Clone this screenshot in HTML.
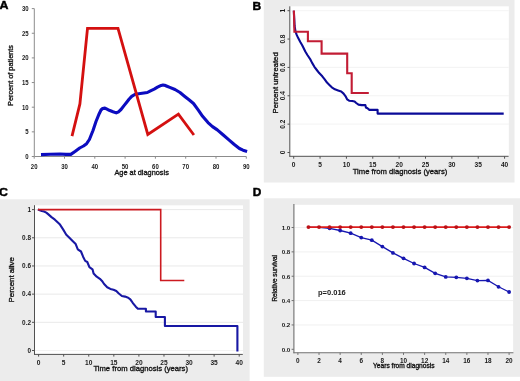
<!DOCTYPE html>
<html><head><meta charset="utf-8"><style>
html,body{margin:0;padding:0;background:#fff;overflow:hidden;}
svg{display:block;filter:blur(0.35px);}
text{font-family:"Liberation Sans",sans-serif;}
.t{fill:#111;stroke:#111;stroke-width:0.32px;}
.tk{fill:#1a1a1a;stroke:#1a1a1a;stroke-width:0.3px;}
.lab{fill:#000;stroke:#000;stroke-width:0.45px;font-weight:bold;}
.tkb{fill:#1a1a1a;font-weight:bold;}
</style></head><body>
<svg width="520" height="381" viewBox="0 0 520 381">
<rect x="0" y="0" width="520" height="381" fill="#fff"/>
<text class="lab" transform="translate(-0.4,8.9) scale(1.08,1)" font-size="11.5" text-anchor="start">A</text>
<line x1="34.3" y1="8.6" x2="34.3" y2="156.5" stroke="#8c8c8c" stroke-width="1"/>
<line x1="34.3" y1="156.5" x2="246.3" y2="156.5" stroke="#8c8c8c" stroke-width="1"/>
<line x1="31.8" y1="156.5" x2="34.3" y2="156.5" stroke="#8c8c8c" stroke-width="1"/>
<text class="tkb" transform="translate(28.6,158.95) scale(0.87,1)" font-size="6.9" text-anchor="end">0</text>
<line x1="31.8" y1="131.85" x2="34.3" y2="131.85" stroke="#8c8c8c" stroke-width="1"/>
<text class="tkb" transform="translate(28.6,134.3) scale(0.87,1)" font-size="6.9" text-anchor="end">5</text>
<line x1="31.8" y1="107.2" x2="34.3" y2="107.2" stroke="#8c8c8c" stroke-width="1"/>
<text class="tkb" transform="translate(28.6,109.65) scale(0.87,1)" font-size="6.9" text-anchor="end">10</text>
<line x1="31.8" y1="82.55" x2="34.3" y2="82.55" stroke="#8c8c8c" stroke-width="1"/>
<text class="tkb" transform="translate(28.6,85) scale(0.87,1)" font-size="6.9" text-anchor="end">15</text>
<line x1="31.8" y1="57.9" x2="34.3" y2="57.9" stroke="#8c8c8c" stroke-width="1"/>
<text class="tkb" transform="translate(28.6,60.35) scale(0.87,1)" font-size="6.9" text-anchor="end">20</text>
<line x1="31.8" y1="33.25" x2="34.3" y2="33.25" stroke="#8c8c8c" stroke-width="1"/>
<text class="tkb" transform="translate(28.6,35.7) scale(0.87,1)" font-size="6.9" text-anchor="end">25</text>
<line x1="31.8" y1="8.6" x2="34.3" y2="8.6" stroke="#8c8c8c" stroke-width="1"/>
<text class="tkb" transform="translate(28.6,11.05) scale(0.87,1)" font-size="6.9" text-anchor="end">30</text>
<line x1="34.2" y1="156.5" x2="34.2" y2="158.7" stroke="#8c8c8c" stroke-width="1"/>
<text class="tkb" transform="translate(34.2,168.7) scale(0.87,1)" font-size="6.9" text-anchor="middle">20</text>
<line x1="64.5" y1="156.5" x2="64.5" y2="158.7" stroke="#8c8c8c" stroke-width="1"/>
<text class="tkb" transform="translate(64.5,168.7) scale(0.87,1)" font-size="6.9" text-anchor="middle">30</text>
<line x1="94.8" y1="156.5" x2="94.8" y2="158.7" stroke="#8c8c8c" stroke-width="1"/>
<text class="tkb" transform="translate(94.8,168.7) scale(0.87,1)" font-size="6.9" text-anchor="middle">40</text>
<line x1="125.1" y1="156.5" x2="125.1" y2="158.7" stroke="#8c8c8c" stroke-width="1"/>
<text class="tkb" transform="translate(125.1,168.7) scale(0.87,1)" font-size="6.9" text-anchor="middle">50</text>
<line x1="155.4" y1="156.5" x2="155.4" y2="158.7" stroke="#8c8c8c" stroke-width="1"/>
<text class="tkb" transform="translate(155.4,168.7) scale(0.87,1)" font-size="6.9" text-anchor="middle">60</text>
<line x1="185.7" y1="156.5" x2="185.7" y2="158.7" stroke="#8c8c8c" stroke-width="1"/>
<text class="tkb" transform="translate(185.7,168.7) scale(0.87,1)" font-size="6.9" text-anchor="middle">70</text>
<line x1="216" y1="156.5" x2="216" y2="158.7" stroke="#8c8c8c" stroke-width="1"/>
<text class="tkb" transform="translate(216,168.7) scale(0.87,1)" font-size="6.9" text-anchor="middle">80</text>
<line x1="246.3" y1="156.5" x2="246.3" y2="158.7" stroke="#8c8c8c" stroke-width="1"/>
<text class="tkb" transform="translate(246.3,168.7) scale(0.87,1)" font-size="6.9" text-anchor="middle">90</text>
<text class="t" transform="translate(141.6,174.6)" font-size="7.36" text-anchor="middle">Age at diagnosis</text>
<text class="t" transform="translate(13.2,75.5) rotate(-90)" font-size="7.3" text-anchor="middle">Percent of patients</text>
<polyline points="41,154.6 50,154.2 60,154 66,154.4 70.8,154.4 75,151.5 79.7,148 83.5,146 86.6,143.7 89.4,139.5 93,130.5 96,121.5 99.2,113.7 101,110 102.6,108.5 104.9,108.1 107,109.2 109.2,110.3 113,111.8 116.2,112.9 118.5,111.8 121,109.5 124,105.6 126.5,102.5 129,99.3 131.7,96.4 135.2,94.2 140.4,93.5 147.3,92.5 150.5,90.8 154.2,89.1 157.5,87.2 161.2,85.4 163,85 164.6,85.2 167,86.2 169.8,87.4 175,89.5 180,92.5 185.1,96.7 189,99.8 193.5,103.5 198.5,110.3 202.6,116.3 208,122.6 212.5,126.6 217.3,129.9 223,134.8 229.2,140.2 234,144.3 239.4,148.5 243,150.2 247.1,151.4" fill="none" stroke="#0c0cc0" stroke-width="3.1" stroke-linejoin="round"/>
<polyline points="72,136.2 79.9,103.9 87.5,28.3 118,28.3 147.8,134.5 178.4,114.2 193.9,135" fill="none" stroke="#d41010" stroke-width="2.8" stroke-linejoin="miter"/>
<text class="lab" transform="translate(252.5,9.6) scale(1.02,1)" font-size="11.8" text-anchor="start">B</text>
<rect x="263.8" y="0" width="250.7" height="182.5" fill="#ececec"/>
<rect x="289.6" y="6.3" width="219.2" height="150.2" fill="#fff"/>
<line x1="291" y1="124.14" x2="508.8" y2="124.14" stroke="#f0f0f0" stroke-width="0.8"/>
<line x1="291" y1="95.78" x2="508.8" y2="95.78" stroke="#f0f0f0" stroke-width="0.8"/>
<line x1="291" y1="67.42" x2="508.8" y2="67.42" stroke="#f0f0f0" stroke-width="0.8"/>
<line x1="291" y1="39.06" x2="508.8" y2="39.06" stroke="#f0f0f0" stroke-width="0.8"/>
<line x1="291" y1="10.7" x2="508.8" y2="10.7" stroke="#f0f0f0" stroke-width="0.8"/>
<line x1="289.8" y1="6.3" x2="289.8" y2="156.5" stroke="#505050" stroke-width="1"/>
<line x1="289.3" y1="156.3" x2="508.6" y2="156.3" stroke="#505050" stroke-width="1"/>
<line x1="287.5" y1="152.5" x2="289.8" y2="152.5" stroke="#505050" stroke-width="1"/>
<text class="tkb" transform="translate(285.4,152.5) rotate(-90)" font-size="6.5" text-anchor="middle">0</text>
<line x1="287.5" y1="124.14" x2="289.8" y2="124.14" stroke="#505050" stroke-width="1"/>
<text class="tkb" transform="translate(285.4,124.14) rotate(-90)" font-size="6.5" text-anchor="middle">0.2</text>
<line x1="287.5" y1="95.78" x2="289.8" y2="95.78" stroke="#505050" stroke-width="1"/>
<text class="tkb" transform="translate(285.4,95.78) rotate(-90)" font-size="6.5" text-anchor="middle">0.4</text>
<line x1="287.5" y1="67.42" x2="289.8" y2="67.42" stroke="#505050" stroke-width="1"/>
<text class="tkb" transform="translate(285.4,67.42) rotate(-90)" font-size="6.5" text-anchor="middle">0.6</text>
<line x1="287.5" y1="39.06" x2="289.8" y2="39.06" stroke="#505050" stroke-width="1"/>
<text class="tkb" transform="translate(285.4,39.06) rotate(-90)" font-size="6.5" text-anchor="middle">0.8</text>
<line x1="287.5" y1="10.7" x2="289.8" y2="10.7" stroke="#505050" stroke-width="1"/>
<text class="tkb" transform="translate(285.4,10.7) rotate(-90)" font-size="6.5" text-anchor="middle">1</text>
<line x1="293.7" y1="156.3" x2="293.7" y2="158.7" stroke="#505050" stroke-width="1"/>
<text class="tkb" transform="translate(293.7,166.6)" font-size="6.6" text-anchor="middle">0</text>
<line x1="320.06" y1="156.3" x2="320.06" y2="158.7" stroke="#505050" stroke-width="1"/>
<text class="tkb" transform="translate(320.06,166.6)" font-size="6.6" text-anchor="middle">5</text>
<line x1="346.42" y1="156.3" x2="346.42" y2="158.7" stroke="#505050" stroke-width="1"/>
<text class="tkb" transform="translate(346.42,166.6)" font-size="6.6" text-anchor="middle">10</text>
<line x1="372.78" y1="156.3" x2="372.78" y2="158.7" stroke="#505050" stroke-width="1"/>
<text class="tkb" transform="translate(372.78,166.6)" font-size="6.6" text-anchor="middle">15</text>
<line x1="399.14" y1="156.3" x2="399.14" y2="158.7" stroke="#505050" stroke-width="1"/>
<text class="tkb" transform="translate(399.14,166.6)" font-size="6.6" text-anchor="middle">20</text>
<line x1="425.5" y1="156.3" x2="425.5" y2="158.7" stroke="#505050" stroke-width="1"/>
<text class="tkb" transform="translate(425.5,166.6)" font-size="6.6" text-anchor="middle">25</text>
<line x1="451.86" y1="156.3" x2="451.86" y2="158.7" stroke="#505050" stroke-width="1"/>
<text class="tkb" transform="translate(451.86,166.6)" font-size="6.6" text-anchor="middle">30</text>
<line x1="478.22" y1="156.3" x2="478.22" y2="158.7" stroke="#505050" stroke-width="1"/>
<text class="tkb" transform="translate(478.22,166.6)" font-size="6.6" text-anchor="middle">35</text>
<line x1="504.58" y1="156.3" x2="504.58" y2="158.7" stroke="#505050" stroke-width="1"/>
<text class="tkb" transform="translate(504.58,166.6)" font-size="6.6" text-anchor="middle">40</text>
<text class="t" transform="translate(400,174.3)" font-size="7.66" text-anchor="middle">Time from diagnosis (years)</text>
<text class="t" transform="translate(277.9,82.9) rotate(-90)" font-size="7.7" text-anchor="middle">Percent untreated</text>
<polyline points="293.8,10.7 294.3,20 294.6,26 295.5,31.5 296.7,34.9 298.2,38.1 300.3,42 302.2,45.2 303.7,48.3 305.3,51.5 307.4,55 310.5,59.7 312.1,62.9 314.4,66.8 316.8,70 319.2,73.1 322.3,76.3 324.7,79.4 327,82.6 329.4,84.9 331.8,87.3 334.9,89.3 338.1,90.4 341.2,91.5 343.6,93.6 345.6,96.3 347.2,99.4 349.1,100.7 352.2,101 354.6,101.5 356.2,103 358.5,104.6 361.7,105.1 365.4,105.1 365.9,107.5 367.5,108.3 369.4,109.9 377.6,109.9 377.6,113.6 503.7,113.6" fill="none" stroke="#0a0a98" stroke-width="2.1" stroke-linejoin="round"/>
<polyline points="293.9,10.5 294.4,31.8 307.9,31.8 307.9,41.2 321.6,41.2 321.6,53.6 347.2,53.6 347.2,73.2 351.7,73.2 351.7,93 368.8,93" fill="none" stroke="#c21c34" stroke-width="2.1" stroke-linejoin="miter"/>
<text class="lab" transform="translate(-0.9,196.2) scale(1.05,1)" font-size="11.8" text-anchor="start">C</text>
<rect x="0" y="199.3" width="249.6" height="182" fill="#ececec"/>
<rect x="34.4" y="205.3" width="208.6" height="149" fill="#fff"/>
<line x1="35" y1="350.5" x2="243" y2="350.5" stroke="#f2f2f2" stroke-width="0.9"/>
<line x1="35" y1="322.32" x2="243" y2="322.32" stroke="#e6e6e6" stroke-width="0.9"/>
<line x1="35" y1="294.14" x2="243" y2="294.14" stroke="#e6e6e6" stroke-width="0.9"/>
<line x1="35" y1="265.96" x2="243" y2="265.96" stroke="#e6e6e6" stroke-width="0.9"/>
<line x1="35" y1="237.78" x2="243" y2="237.78" stroke="#e6e6e6" stroke-width="0.9"/>
<line x1="35" y1="209.6" x2="243" y2="209.6" stroke="#e6e6e6" stroke-width="0.9"/>
<line x1="34.5" y1="205.2" x2="34.5" y2="354.8" stroke="#505050" stroke-width="1"/>
<line x1="34" y1="354.4" x2="242.8" y2="354.4" stroke="#505050" stroke-width="1"/>
<line x1="32" y1="350.5" x2="34.5" y2="350.5" stroke="#505050" stroke-width="1"/>
<text class="tkb" transform="translate(31,352.8)" font-size="6.4" text-anchor="end">0</text>
<line x1="32" y1="322.32" x2="34.5" y2="322.32" stroke="#505050" stroke-width="1"/>
<text class="tkb" transform="translate(31,324.62)" font-size="6.4" text-anchor="end">0.2</text>
<line x1="32" y1="294.14" x2="34.5" y2="294.14" stroke="#505050" stroke-width="1"/>
<text class="tkb" transform="translate(31,296.44)" font-size="6.4" text-anchor="end">0.4</text>
<line x1="32" y1="265.96" x2="34.5" y2="265.96" stroke="#505050" stroke-width="1"/>
<text class="tkb" transform="translate(31,268.26)" font-size="6.4" text-anchor="end">0.6</text>
<line x1="32" y1="237.78" x2="34.5" y2="237.78" stroke="#505050" stroke-width="1"/>
<text class="tkb" transform="translate(31,240.08)" font-size="6.4" text-anchor="end">0.8</text>
<line x1="32" y1="209.6" x2="34.5" y2="209.6" stroke="#505050" stroke-width="1"/>
<text class="tkb" transform="translate(31,211.9)" font-size="6.4" text-anchor="end">1</text>
<line x1="38.6" y1="354.3" x2="38.6" y2="356.6" stroke="#505050" stroke-width="1"/>
<text class="tkb" transform="translate(38.6,364.7)" font-size="6.6" text-anchor="middle">0</text>
<line x1="63.67" y1="354.3" x2="63.67" y2="356.6" stroke="#505050" stroke-width="1"/>
<text class="tkb" transform="translate(63.67,364.7)" font-size="6.6" text-anchor="middle">5</text>
<line x1="88.75" y1="354.3" x2="88.75" y2="356.6" stroke="#505050" stroke-width="1"/>
<text class="tkb" transform="translate(88.75,364.7)" font-size="6.6" text-anchor="middle">10</text>
<line x1="113.82" y1="354.3" x2="113.82" y2="356.6" stroke="#505050" stroke-width="1"/>
<text class="tkb" transform="translate(113.82,364.7)" font-size="6.6" text-anchor="middle">15</text>
<line x1="138.9" y1="354.3" x2="138.9" y2="356.6" stroke="#505050" stroke-width="1"/>
<text class="tkb" transform="translate(138.9,364.7)" font-size="6.6" text-anchor="middle">20</text>
<line x1="163.97" y1="354.3" x2="163.97" y2="356.6" stroke="#505050" stroke-width="1"/>
<text class="tkb" transform="translate(163.97,364.7)" font-size="6.6" text-anchor="middle">25</text>
<line x1="189.05" y1="354.3" x2="189.05" y2="356.6" stroke="#505050" stroke-width="1"/>
<text class="tkb" transform="translate(189.05,364.7)" font-size="6.6" text-anchor="middle">30</text>
<line x1="214.12" y1="354.3" x2="214.12" y2="356.6" stroke="#505050" stroke-width="1"/>
<text class="tkb" transform="translate(214.12,364.7)" font-size="6.6" text-anchor="middle">35</text>
<line x1="239.2" y1="354.3" x2="239.2" y2="356.6" stroke="#505050" stroke-width="1"/>
<text class="tkb" transform="translate(239.2,364.7)" font-size="6.6" text-anchor="middle">40</text>
<text class="t" transform="translate(140.7,370.8)" font-size="7.66" text-anchor="middle">Time from diagnosis (years)</text>
<text class="t" transform="translate(13.8,279.8) rotate(-90)" font-size="7.84" text-anchor="middle">Percent alive</text>
<polyline points="37.9,209.6 41.8,211 44,211.5 46.3,212.6 48.4,214.4 51.5,217.1 54.9,219.7 57.6,222.3 60,224.6 63.1,229.4 66.3,234.7 69.4,237.8 72.6,241 75.7,244.1 77.8,249.4 81,251.5 83.1,256.7 85.2,260.9 87.3,262 89.4,267.2 92.5,269.3 93.6,273.5 96.7,276.7 99.9,278.8 102,280.9 104.1,284 107.2,287.2 110.4,288.9 113.5,289.7 116.3,291 118.8,293.5 121.9,296 125.1,296.6 128.2,297.7 130.3,299.4 131.5,301 133.1,303.3 135.8,306.7 137.9,308.8 145.9,308.8 145.9,311.5 155.7,311.5 155.7,317 164.9,317 164.9,326 237.4,326 237.4,351.6" fill="none" stroke="#1818a4" stroke-width="2.1" stroke-linejoin="round"/>
<polyline points="37.9,209.6 160.7,209.6 160.7,280.5 184.3,280.5" fill="none" stroke="#cc1a20" stroke-width="1.6" stroke-linejoin="miter"/>
<text class="lab" transform="translate(252.8,196.3) scale(1.05,1)" font-size="11.3" text-anchor="start">D</text>
<rect x="263.8" y="198.3" width="256.2" height="178.5" fill="#ececec"/>
<rect x="294" y="204.8" width="219.1" height="148" fill="#fff"/>
<line x1="294.5" y1="324.94" x2="513.4" y2="324.94" stroke="#eeeeee" stroke-width="0.9"/>
<line x1="294.5" y1="300.58" x2="513.4" y2="300.58" stroke="#eeeeee" stroke-width="0.9"/>
<line x1="294.5" y1="276.22" x2="513.4" y2="276.22" stroke="#eeeeee" stroke-width="0.9"/>
<line x1="294.5" y1="251.86" x2="513.4" y2="251.86" stroke="#eeeeee" stroke-width="0.9"/>
<line x1="294.5" y1="227.5" x2="513.4" y2="227.5" stroke="#eeeeee" stroke-width="0.9"/>
<line x1="293.9" y1="204" x2="293.9" y2="353.2" stroke="#707070" stroke-width="1.1"/>
<line x1="293.5" y1="352.7" x2="513.4" y2="352.7" stroke="#707070" stroke-width="1.1"/>
<line x1="291.6" y1="349.3" x2="293.9" y2="349.3" stroke="#707070" stroke-width="1"/>
<text class="tkb" transform="translate(290.3,351.6)" font-size="6.2" text-anchor="end">0.0</text>
<line x1="291.6" y1="324.94" x2="293.9" y2="324.94" stroke="#707070" stroke-width="1"/>
<text class="tkb" transform="translate(290.3,327.24)" font-size="6.2" text-anchor="end">0.2</text>
<line x1="291.6" y1="300.58" x2="293.9" y2="300.58" stroke="#707070" stroke-width="1"/>
<text class="tkb" transform="translate(290.3,302.88)" font-size="6.2" text-anchor="end">0.4</text>
<line x1="291.6" y1="276.22" x2="293.9" y2="276.22" stroke="#707070" stroke-width="1"/>
<text class="tkb" transform="translate(290.3,278.52)" font-size="6.2" text-anchor="end">0.6</text>
<line x1="291.6" y1="251.86" x2="293.9" y2="251.86" stroke="#707070" stroke-width="1"/>
<text class="tkb" transform="translate(290.3,254.16)" font-size="6.2" text-anchor="end">0.8</text>
<line x1="291.6" y1="227.5" x2="293.9" y2="227.5" stroke="#707070" stroke-width="1"/>
<text class="tkb" transform="translate(290.3,229.8)" font-size="6.2" text-anchor="end">1.0</text>
<line x1="297.9" y1="352.7" x2="297.9" y2="354.9" stroke="#707070" stroke-width="1"/>
<text class="tkb" transform="translate(297.9,362.6)" font-size="6.4" text-anchor="middle">0</text>
<line x1="319.02" y1="352.7" x2="319.02" y2="354.9" stroke="#707070" stroke-width="1"/>
<text class="tkb" transform="translate(319.02,362.6)" font-size="6.4" text-anchor="middle">2</text>
<line x1="340.14" y1="352.7" x2="340.14" y2="354.9" stroke="#707070" stroke-width="1"/>
<text class="tkb" transform="translate(340.14,362.6)" font-size="6.4" text-anchor="middle">4</text>
<line x1="361.26" y1="352.7" x2="361.26" y2="354.9" stroke="#707070" stroke-width="1"/>
<text class="tkb" transform="translate(361.26,362.6)" font-size="6.4" text-anchor="middle">6</text>
<line x1="382.38" y1="352.7" x2="382.38" y2="354.9" stroke="#707070" stroke-width="1"/>
<text class="tkb" transform="translate(382.38,362.6)" font-size="6.4" text-anchor="middle">8</text>
<line x1="403.5" y1="352.7" x2="403.5" y2="354.9" stroke="#707070" stroke-width="1"/>
<text class="tkb" transform="translate(403.5,362.6)" font-size="6.4" text-anchor="middle">10</text>
<line x1="424.62" y1="352.7" x2="424.62" y2="354.9" stroke="#707070" stroke-width="1"/>
<text class="tkb" transform="translate(424.62,362.6)" font-size="6.4" text-anchor="middle">12</text>
<line x1="445.74" y1="352.7" x2="445.74" y2="354.9" stroke="#707070" stroke-width="1"/>
<text class="tkb" transform="translate(445.74,362.6)" font-size="6.4" text-anchor="middle">14</text>
<line x1="466.86" y1="352.7" x2="466.86" y2="354.9" stroke="#707070" stroke-width="1"/>
<text class="tkb" transform="translate(466.86,362.6)" font-size="6.4" text-anchor="middle">16</text>
<line x1="487.98" y1="352.7" x2="487.98" y2="354.9" stroke="#707070" stroke-width="1"/>
<text class="tkb" transform="translate(487.98,362.6)" font-size="6.4" text-anchor="middle">18</text>
<line x1="509.1" y1="352.7" x2="509.1" y2="354.9" stroke="#707070" stroke-width="1"/>
<text class="tkb" transform="translate(509.1,362.6)" font-size="6.4" text-anchor="middle">20</text>
<text class="t" transform="translate(403.8,368.2)" font-size="6.62" text-anchor="middle">Years from diagnosis</text>
<text class="t" transform="translate(276.8,278.3) rotate(-90)" font-size="6.4" text-anchor="middle">Relative survival</text>
<text class="tkb" transform="translate(318,294.6)" font-size="7.5" text-anchor="start">p=0.016</text>
<polyline points="308.46,227.3 319.02,227.3 329.58,228.3 340.14,230.5 350.7,233.2 361.26,237.6 371.82,240.2 382.38,246.6 392.94,252.9 403.5,258.3 414.06,263.5 424.62,267.4 435.18,273.3 445.74,276.9 456.3,277.3 466.86,278.3 477.42,280.6 487.98,280.4 498.54,286.8 509.1,292" fill="none" stroke="#1616b0" stroke-width="1.3"/>
<circle cx="329.58" cy="228.3" r="1.9" fill="#1616b0"/>
<circle cx="340.14" cy="230.5" r="1.9" fill="#1616b0"/>
<circle cx="350.7" cy="233.2" r="1.9" fill="#1616b0"/>
<circle cx="361.26" cy="237.6" r="1.9" fill="#1616b0"/>
<circle cx="371.82" cy="240.2" r="1.9" fill="#1616b0"/>
<circle cx="382.38" cy="246.6" r="1.9" fill="#1616b0"/>
<circle cx="392.94" cy="252.9" r="1.9" fill="#1616b0"/>
<circle cx="403.5" cy="258.3" r="1.9" fill="#1616b0"/>
<circle cx="414.06" cy="263.5" r="1.9" fill="#1616b0"/>
<circle cx="424.62" cy="267.4" r="1.9" fill="#1616b0"/>
<circle cx="435.18" cy="273.3" r="1.9" fill="#1616b0"/>
<circle cx="445.74" cy="276.9" r="1.9" fill="#1616b0"/>
<circle cx="456.3" cy="277.3" r="1.9" fill="#1616b0"/>
<circle cx="466.86" cy="278.3" r="1.9" fill="#1616b0"/>
<circle cx="477.42" cy="280.6" r="1.9" fill="#1616b0"/>
<circle cx="487.98" cy="280.4" r="1.9" fill="#1616b0"/>
<circle cx="498.54" cy="286.8" r="1.9" fill="#1616b0"/>
<circle cx="509.1" cy="292" r="1.9" fill="#1616b0"/>
<polyline points="308.46,227.1 319.02,227.1 329.58,227.1 340.14,227.1 350.7,227.1 361.26,227.1 371.82,227.1 382.38,227.1 392.94,227.1 403.5,227.1 414.06,227.1 424.62,227.1 435.18,227.1 445.74,227.1 456.3,227.1 466.86,227.1 477.42,227.1 487.98,227.1 498.54,227.1 509.1,227.1" fill="none" stroke="#dc1c1c" stroke-width="1.6"/>
<circle cx="308.46" cy="227.1" r="1.95" fill="#bc1016"/>
<circle cx="319.02" cy="227.1" r="1.95" fill="#bc1016"/>
<circle cx="329.58" cy="227.1" r="1.95" fill="#bc1016"/>
<circle cx="340.14" cy="227.1" r="1.95" fill="#bc1016"/>
<circle cx="350.7" cy="227.1" r="1.95" fill="#bc1016"/>
<circle cx="361.26" cy="227.1" r="1.95" fill="#bc1016"/>
<circle cx="371.82" cy="227.1" r="1.95" fill="#bc1016"/>
<circle cx="382.38" cy="227.1" r="1.95" fill="#bc1016"/>
<circle cx="392.94" cy="227.1" r="1.95" fill="#bc1016"/>
<circle cx="403.5" cy="227.1" r="1.95" fill="#bc1016"/>
<circle cx="414.06" cy="227.1" r="1.95" fill="#bc1016"/>
<circle cx="424.62" cy="227.1" r="1.95" fill="#bc1016"/>
<circle cx="435.18" cy="227.1" r="1.95" fill="#bc1016"/>
<circle cx="445.74" cy="227.1" r="1.95" fill="#bc1016"/>
<circle cx="456.3" cy="227.1" r="1.95" fill="#bc1016"/>
<circle cx="466.86" cy="227.1" r="1.95" fill="#bc1016"/>
<circle cx="477.42" cy="227.1" r="1.95" fill="#bc1016"/>
<circle cx="487.98" cy="227.1" r="1.95" fill="#bc1016"/>
<circle cx="498.54" cy="227.1" r="1.95" fill="#bc1016"/>
<circle cx="509.1" cy="227.1" r="1.95" fill="#bc1016"/>
</svg>
</body></html>
